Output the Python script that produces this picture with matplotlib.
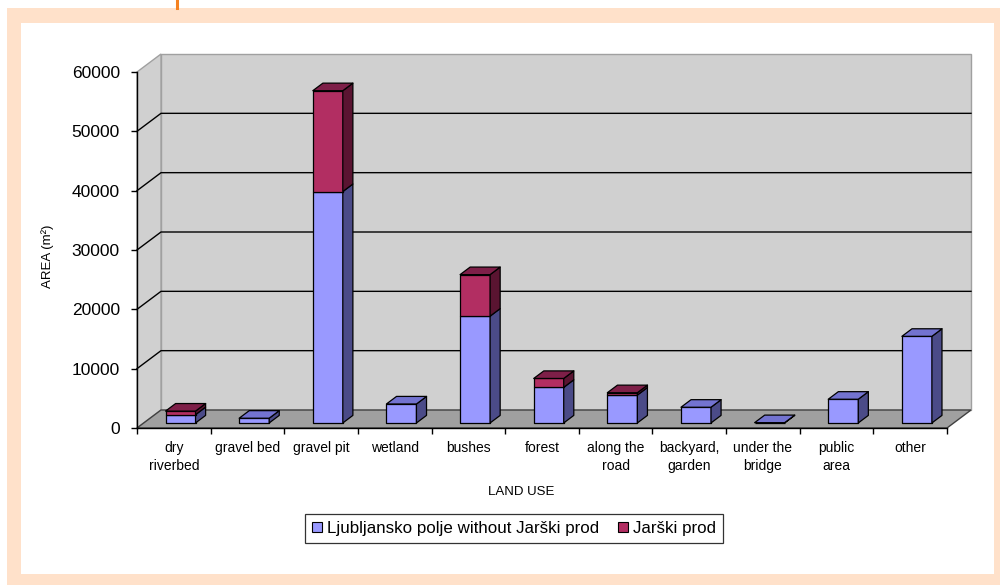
import matplotlib
matplotlib.use('Agg')
import matplotlib.pyplot as plt
from matplotlib.patches import Polygon, Rectangle, Patch
from matplotlib.lines import Line2D

plt.rcParams['font.family'] = ['Liberation Sans', 'DejaVu Sans']

categories = ['dry\nriverbed', 'gravel bed', 'gravel pit', 'wetland', 'bushes', 'forest',
              'along the\nroad', 'backyard,\ngarden', 'under the\nbridge', 'public\narea', 'other']
ljubljansko = [1400, 800, 39000, 3200, 18000, 6000, 4700, 2650, 50, 4000, 14600]
jarski = [600, 0, 17000, 0, 7000, 1500, 400, 0, 0, 0, 0]
series_names = ['Ljubljansko polje without Jarški prod', 'Jarški prod']
yticks = [0, 10000, 20000, 30000, 40000, 50000, 60000]

W, H = 1000, 585
fig = plt.figure(figsize=(W / 100, H / 100), dpi=100, facecolor='white')

# frame
fig.add_artist(Rectangle((7 / W, 0), (W - 7) / W, (H - 8) / H, transform=fig.transFigure,
                         facecolor='#FFE1CA', edgecolor='none', zorder=-10))
fig.add_artist(Rectangle((21 / W, (H - 574) / H), (994 - 21) / W, (574 - 23) / H,
                         transform=fig.transFigure, facecolor='white', edgecolor='none', zorder=-9))
fig.add_artist(Line2D([177 / W, 177 / W], [1, (H - 8) / H], transform=fig.transFigure,
                      color='#F58220', lw=2.2))

n = len(categories)
ymax = 60000
ax = fig.add_axes([137 / W, (H - 428) / H, (947 - 137) / W, (428 - 72) / H])
ax.set_xlim(0, n)
ax.set_ylim(0, ymax)
ax.patch.set_visible(False)

px_x = (947 - 137) / n          # pixels per category
px_y = (428 - 72) / ymax        # pixels per unit
DX = 24 / px_x
DY = 18 / px_y

wall = '#D0D0D0'
floor = '#A0A0A0'
# back wall
ax.add_patch(Polygon([(DX, DY), (n + DX, DY), (n + DX, ymax + DY), (DX, ymax + DY)],
                     closed=True, facecolor=wall, edgecolor='#A0A0A0', lw=1, clip_on=False, zorder=0.2))
# left wall
ax.add_patch(Polygon([(0, 0), (DX, DY), (DX, ymax + DY), (0, ymax)],
                     closed=True, facecolor=wall, edgecolor='#A0A0A0', lw=1, clip_on=False, zorder=0.2))
# floor
ax.add_patch(Polygon([(0, 0), (n, 0), (n + DX, DY), (DX, DY)],
                     closed=True, facecolor=floor, edgecolor='#404040', lw=1, clip_on=False, zorder=0.3))
# gridlines
for v in yticks[1:-1]:
    ax.plot([0, DX, n + DX], [v, v + DY, v + DY], color='black', lw=1, clip_on=False, zorder=0.5)

# bars
f1, f2 = 0.28, 0.70
hw = 15 / px_x
ddx = (f2 - f1) * DX
ddy = (f2 - f1) * DY
colors = [('#9999FF', '#4B4B88', '#7373D0'), ('#B22E62', '#5A1431', '#7E1F48')]


def poly(pts, fc):
    ax.add_patch(Polygon(pts, closed=True, facecolor=fc, edgecolor='black', lw=0.9,
                         joinstyle='round', clip_on=False, zorder=3))


for i in range(n):
    cx = i + 0.5 + f1 * DX
    x0, x1 = cx - hw, cx + hw
    base = 0
    segs = [(ljubljansko[i], colors[0]), (jarski[i], colors[1])]
    segs = [s for s in segs if s[0] > 0]
    for k, (val, (cf, cs, ct)) in enumerate(segs):
        yb = base + f1 * DY
        yt = base + val + f1 * DY
        poly([(x0, yb), (x1, yb), (x1, yt), (x0, yt)], cf)
        poly([(x1, yb), (x1 + ddx, yb + ddy), (x1 + ddx, yt + ddy), (x1, yt)], cs)
        if k == len(segs) - 1:
            poly([(x0, yt), (x1, yt), (x1 + ddx, yt + ddy), (x0 + ddx, yt + ddy)], ct)
        base += val

# axes
for s in ['top', 'right']:
    ax.spines[s].set_visible(False)
for s in ['left', 'bottom']:
    ax.spines[s].set_color('black')
    ax.spines[s].set_linewidth(1)
ax.set_yticks(yticks)
ax.set_yticklabels([str(v) for v in yticks], fontsize=12.5)
ax.tick_params(axis='y', direction='out', length=4.3, width=1, pad=8)
ax.set_xticks(range(n + 1))
ax.set_xticklabels([])
ax.tick_params(axis='x', which='major', direction='out', length=4.3, width=1)
ax.set_xticks([i + 0.5 for i in range(n)], minor=True)
ax.set_xticklabels(categories, minor=True, fontsize=10)
ax.tick_params(axis='x', which='minor', length=0, pad=9.5)
for t in ax.get_xticklabels(minor=True):
    t.set_linespacing(1.35)

fig.text(48 / W, 1 - 256 / H, 'AREA (m²)', rotation=90, ha='center', va='center', fontsize=9.5)
fig.text(521 / W, 1 - 492 / H, 'LAND USE', ha='center', va='center', fontsize=9.5)

handles = [Patch(facecolor=colors[0][0], edgecolor='black', lw=0.8),
           Patch(facecolor=colors[1][0], edgecolor='black', lw=0.8)]
leg = fig.legend(handles, series_names, loc='center', bbox_to_anchor=(514 / W, 1 - 528.5 / H),
                 ncol=2, fontsize=12.2, frameon=True, fancybox=False, edgecolor='black',
                 handlelength=0.6, handleheight=0.6, handletextpad=0.3, columnspacing=1.1,
                 borderpad=0.4, borderaxespad=0)
leg.get_frame().set_linewidth(0.9)

fig.savefig('out.png', dpi=100, facecolor='white')
